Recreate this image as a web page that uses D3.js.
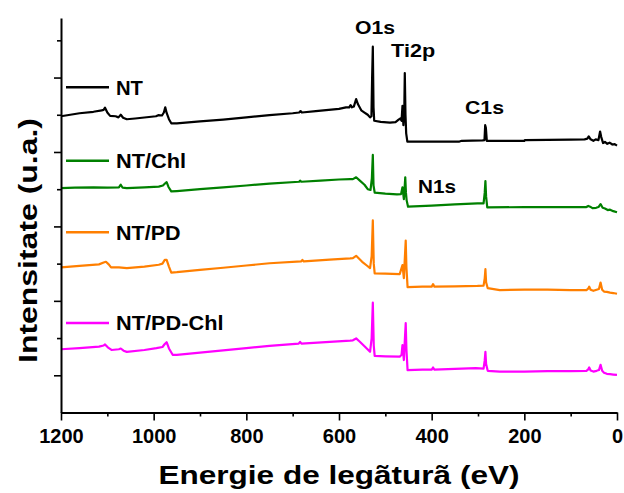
<!DOCTYPE html>
<html>
<head>
<meta charset="utf-8">
<script src="https://cdn.jsdelivr.net/npm/d3@7/dist/d3.min.js"></script>
<style>
  html, body { margin: 0; padding: 0; background: #fff; }
  svg { display: block; }
  text { font-family: "Liberation Sans", Arial, sans-serif; font-weight: bold; fill: #000; }
</style>
</head>
<body>
<svg id="chart" width="624" height="493"></svg>
<script>
// XPS survey spectra, stacked with vertical offsets (binding energy in eV, intensity in a.u.)
const seriesNames = ["NT", "NT/Chl", "NT/PD", "NT/PD-Chl"];
const seriesColors = ["#000000", "#008000", "#ff7f00", "#ff00ff"];

const spectrumNT = [
  [1200, 7.96], [1180, 8.0], [1160, 8.04], [1130, 8.08], [1112, 8.12], [1108, 8.13], [1105, 8.19],
  [1100, 8.06], [1094, 7.97], [1082, 7.96], [1076, 7.93], [1071, 8.0], [1066, 7.92], [1058, 7.88],
  [1040, 7.9], [1010, 7.94], [995, 7.96], [990, 7.99], [982, 7.98], [978, 8.06], [975, 8.2],
  [972, 8.05], [967, 7.88], [962, 7.77], [950, 7.77], [900, 7.82], [850, 7.87], [800, 7.93],
  [750, 7.99], [700, 8.04], [686, 8.06], [683, 8.1], [680, 8.06], [650, 8.1], [600, 8.16],
  [585, 8.2], [578, 8.2], [575, 8.26], [572, 8.2], [568, 8.22], [563, 8.42], [559, 8.28],
  [552, 8.12], [545, 8.06], [538, 8.0], [533, 7.93], [530, 7.96], [528.5, 9.0], [527, 9.83],
  [525.5, 8.2], [524, 7.84], [510, 7.81], [490, 7.79], [478, 7.8], [472, 7.86], [468, 7.9],
  [465, 7.84], [463, 8.24], [461, 7.72], [459, 8.2], [458, 9.12], [456.5, 8.0], [455, 7.5],
  [452.5, 7.28], [400, 7.28], [340, 7.28], [335, 7.3], [290, 7.31], [286, 7.32], [284.5, 7.72],
  [283, 7.65], [281, 7.3], [200, 7.3], [199, 7.32], [100, 7.33], [70, 7.34], [64, 7.36],
  [61, 7.42], [57, 7.34], [51, 7.3], [46, 7.34], [40, 7.32], [36.5, 7.55], [34, 7.4], [30, 7.24],
  [26, 7.27], [21, 7.22], [16, 7.25], [10, 7.2], [5, 7.21], [0, 7.17]
];

const spectrumChl = [
  [1200, 6.03], [1170, 6.04], [1130, 6.05], [1100, 6.04], [1075, 6.05], [1071, 6.12], [1067, 6.04],
  [1058, 6.03], [1020, 6.05], [989, 6.07], [980, 6.1], [975, 6.16], [972, 6.19], [968, 6.06],
  [962, 5.94], [950, 5.95], [900, 6.0], [850, 6.05], [800, 6.1], [750, 6.15], [686, 6.2],
  [684, 6.23], [681, 6.2], [640, 6.23], [600, 6.26], [576, 6.27], [570, 6.27], [563, 6.32],
  [555, 6.23], [545, 6.12], [538, 6.0], [532, 5.98], [529, 6.3], [527, 6.92], [525.5, 6.1],
  [523, 5.91], [500, 5.88], [475, 5.86], [466, 5.87], [463, 6.05], [460, 5.73], [458.5, 6.0],
  [457, 6.32], [455.5, 5.9], [454, 5.7], [451, 5.53], [400, 5.56], [350, 5.59], [301, 5.62],
  [288, 5.62], [285.5, 5.9], [284, 6.22], [282.5, 5.8], [280, 5.51], [200, 5.52], [100, 5.52],
  [66, 5.52], [62, 5.55], [58, 5.53], [53, 5.49], [45, 5.5], [40, 5.52], [35.5, 5.6], [31, 5.5],
  [26, 5.48], [20, 5.44], [15, 5.45], [8, 5.41], [0, 5.38]
];

const spectrumPD = [
  [1200, 3.9], [1160, 3.94], [1118, 3.98], [1108, 4.03], [1103, 4.05], [1097, 3.98], [1092, 3.9],
  [1075, 3.9], [1058, 3.88], [1020, 3.92], [989, 3.97], [981, 4.0], [976, 4.1], [972, 4.1],
  [967, 3.92], [962, 3.76], [950, 3.77], [900, 3.83], [850, 3.89], [800, 3.95], [750, 4.01],
  [682, 4.06], [679, 4.1], [676, 4.06], [620, 4.11], [576, 4.14], [570, 4.15], [563, 4.21],
  [550, 4.05], [540, 3.95], [533, 3.88], [529.5, 4.2], [527, 5.16], [525, 4.0], [523, 3.74],
  [500, 3.73], [469, 3.72], [463, 3.96], [460, 3.61], [458.5, 4.0], [456, 4.62], [454.5, 3.9],
  [452, 3.37], [420, 3.38], [400, 3.38], [397, 3.45], [394, 3.38], [350, 3.39], [301, 3.4],
  [288, 3.41], [285.5, 3.6], [284, 3.85], [282.5, 3.5], [279, 3.34], [253, 3.29], [200, 3.3],
  [150, 3.3], [100, 3.29], [66, 3.29], [62, 3.33], [60, 3.38], [57, 3.3], [51, 3.27], [44, 3.3],
  [39, 3.32], [35.5, 3.49], [32, 3.3], [28, 3.25], [22, 3.24], [15, 3.22], [8, 3.21], [0, 3.19]
];

const spectrumPDChl = [
  [1200, 1.7], [1160, 1.73], [1118, 1.77], [1108, 1.8], [1105, 1.83], [1099, 1.75], [1091, 1.68],
  [1075, 1.7], [1071, 1.72], [1065, 1.66], [1058, 1.63], [1020, 1.68], [994, 1.73], [981, 1.76],
  [976, 1.84], [972, 1.89], [967, 1.72], [959, 1.55], [950, 1.55], [900, 1.61], [850, 1.67],
  [800, 1.73], [750, 1.79], [687, 1.85], [684, 1.9], [681, 1.85], [620, 1.9], [576, 1.93],
  [570, 1.94], [563, 1.99], [555, 1.9], [545, 1.78], [533, 1.63], [529.5, 2.0], [527, 2.95],
  [525, 1.8], [523, 1.52], [500, 1.51], [469, 1.5], [465, 1.55], [463, 1.81], [460, 1.41],
  [458.5, 1.8], [456, 2.4], [454.5, 1.7], [452, 1.14], [420, 1.15], [400, 1.15], [397, 1.21],
  [394, 1.15], [350, 1.17], [305, 1.19], [288, 1.18], [285.5, 1.4], [284, 1.63], [282.5, 1.3],
  [279, 1.12], [253, 1.1], [200, 1.1], [150, 1.11], [100, 1.11], [66, 1.12], [62, 1.16],
  [60, 1.21], [57, 1.13], [51, 1.1], [44, 1.12], [39, 1.14], [35.5, 1.28], [32, 1.12], [28, 1.07],
  [22, 1.04], [15, 1.03], [8, 1.02], [0, 1.01]
];

const spectra = [spectrumNT, spectrumChl, spectrumPD, spectrumPDChl];

// Axis ticks
const xMajorTicks = [1200, 1000, 800, 600, 400, 200, 0];
const xMinorTicks = [1100, 900, 700, 500, 300, 100];
const yMajorTicks = [1, 3, 5, 7, 9];
const yMinorTicks = [2, 4, 6, 8, 10];

// Core-level peak annotations: label, binding energy of label centre, intensity of label baseline
const peakLabels = ["O1s", "Ti2p", "C1s", "N1s"];
const peakLabelEnergy = [522, 440, 286, 388.6];
const peakLabelLevel = [10.17, 9.55, 8.02, 5.91];

const xTitle = "Energie de legãturã (eV)";
const yTitle = "Intensitate (u.a.)";

// ---------------------------------------------------------------------------
const svg = d3.select("#chart");
const plot = { left: 61, right: 617, top: 18, bottom: 412.5 };

const x = d3.scaleLinear().domain([1200, 0]).range([plot.left, plot.right]);
const y = d3.scaleLinear().domain([0, 10.6]).range([plot.bottom, plot.top]);

const line = d3.line().x(d => x(d[0])).y(d => y(d[1]));

// Spectra
svg.append("g").selectAll("path")
  .data(spectra)
  .join("path")
  .attr("d", line)
  .attr("fill", "none")
  .attr("stroke", (d, i) => seriesColors[i])
  .attr("stroke-width", 2.2)
  .attr("stroke-linejoin", "round");

// Bottom axis
const gx = svg.append("g").attr("transform", `translate(0,${plot.bottom})`);
gx.call(d3.axisBottom(x).tickValues(xMinorTicks).tickSize(4).tickFormat(""));
gx.call(g => g.select(".domain").remove());
const gxMajor = svg.append("g").attr("transform", `translate(0,${plot.bottom})`)
  .call(d3.axisBottom(x).tickValues(xMajorTicks).tickSize(8).tickSizeOuter(0).tickPadding(10).tickFormat(d3.format("d")));
gxMajor.select(".domain").attr("stroke-width", 2);
gxMajor.selectAll(".tick line").attr("stroke-width", 1.6);
gx.selectAll(".tick line").attr("stroke-width", 1.6);
gxMajor.selectAll(".tick text")
  .attr("font-size", 20).attr("font-family", "'Liberation Sans', Arial, sans-serif")
  .attr("font-weight", "bold").attr("fill", "#000").attr("dy", null).attr("y", 30.5);

// Left axis
const gyMinor = svg.append("g").attr("transform", `translate(${plot.left},0)`)
  .call(d3.axisLeft(y).tickValues(yMinorTicks).tickSize(4).tickFormat(""));
gyMinor.select(".domain").remove();
gyMinor.selectAll(".tick line").attr("stroke-width", 1.6);
const gy = svg.append("g").attr("transform", `translate(${plot.left},0)`)
  .call(d3.axisLeft(y).tickValues(yMajorTicks).tickSize(7).tickSizeOuter(0).tickFormat(""));
gy.select(".domain").attr("stroke-width", 2);
gy.selectAll(".tick line").attr("stroke-width", 1.6);

// Legend
const legendRows = [87.3, 160.7, 232.3, 323];
const legendWidths = [27, 70, 64.5, 107.5];
const legend = svg.append("g");
seriesNames.forEach((name, i) => {
  legend.append("line")
    .attr("x1", 66).attr("x2", 109)
    .attr("y1", legendRows[i]).attr("y2", legendRows[i])
    .attr("stroke", seriesColors[i]).attr("stroke-width", 2.6);
  legend.append("text")
    .attr("x", 116).attr("y", legendRows[i] + 7.2)
    .attr("font-size", 20)
    .attr("textLength", legendWidths[i]).attr("lengthAdjust", "spacingAndGlyphs")
    .text(name);
});

// Peak labels
const peakWidths = [40, 44, 39, 38];
svg.append("g").selectAll("text")
  .data(peakLabels)
  .join("text")
  .attr("x", (d, i) => x(peakLabelEnergy[i]) - peakWidths[i] / 2)
  .attr("y", (d, i) => y(peakLabelLevel[i]))
  .attr("font-size", 19)
  .attr("textLength", (d, i) => peakWidths[i]).attr("lengthAdjust", "spacingAndGlyphs")
  .text(d => d);

// Axis titles
svg.append("text")
  .attr("x", (plot.left + plot.right) / 2 - 180.5).attr("y", 484.3)
  .attr("font-size", 26)
  .attr("textLength", 361).attr("lengthAdjust", "spacingAndGlyphs")
  .text(xTitle);

svg.append("text")
  .attr("transform", "translate(37,363) rotate(-90)")
  .attr("font-size", 26)
  .attr("textLength", 245).attr("lengthAdjust", "spacingAndGlyphs")
  .text(yTitle);
</script>
</body>
</html>
